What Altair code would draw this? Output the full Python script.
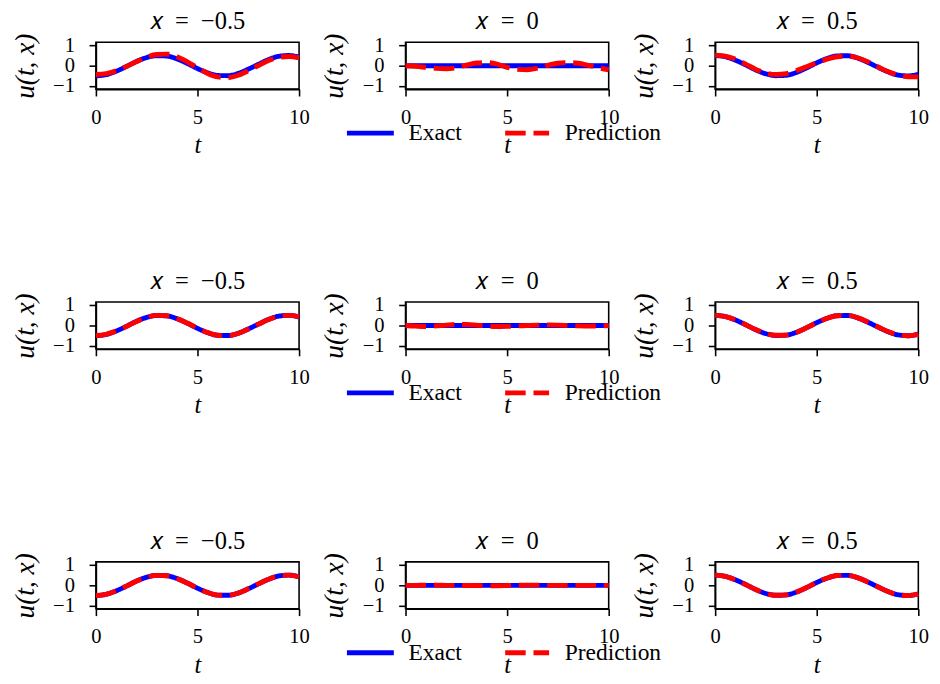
import altair as alt
import pandas as pd

T = [0.0, 0.5, 1.0, 1.5, 2.0, 2.5, 3.0, 3.5, 4.0, 4.5, 5.0, 5.5, 6.0, 6.5, 7.0, 7.5, 8.0, 8.5, 9.0, 9.5, 10.0]

X_VALUES = ["-0.5", "0", "0.5"]
TITLES = ["𝑥\u2002=\u2002−0.5", "𝑥\u2002=\u20020", "𝑥\u2002=\u20020.5"]

EXACT_NEG = [-0.50, -0.44, -0.27, -0.04, 0.21, 0.40, 0.49, 0.47, 0.33, 0.11, -0.14, -0.35, -0.48, -0.49, -0.38, -0.17, 0.07, 0.30, 0.46, 0.50, 0.42]
EXACT_ZERO = [0.00, 0.00, 0.00, 0.00, 0.00, 0.00, 0.00, 0.00, 0.00, 0.00, 0.00, 0.00, 0.00, 0.00, 0.00, 0.00, 0.00, 0.00, 0.00, 0.00, 0.00]
EXACT_POS = [0.50, 0.44, 0.27, 0.04, -0.21, -0.40, -0.49, -0.47, -0.33, -0.11, 0.14, 0.35, 0.48, 0.49, 0.38, 0.17, -0.07, -0.30, -0.46, -0.50, -0.42]

PRED_R1_NEG = [-0.43, -0.39, -0.25, -0.04, 0.20, 0.42, 0.55, 0.57, 0.44, 0.19, -0.10, -0.38, -0.55, -0.58, -0.47, -0.25, 0.01, 0.25, 0.41, 0.45, 0.38]
PRED_R1_ZERO = [0.00, -0.03, -0.08, -0.13, -0.15, -0.10, 0.03, 0.13, 0.15, 0.08, -0.08, -0.18, -0.20, -0.12, 0.02, 0.12, 0.15, 0.12, 0.02, -0.10, -0.20]
PRED_R1_POS = [0.52, 0.47, 0.32, 0.08, -0.18, -0.36, -0.43, -0.39, -0.24, -0.05, 0.15, 0.32, 0.44, 0.47, 0.39, 0.20, -0.05, -0.29, -0.46, -0.54, -0.55]

PRED_R2_NEG = [-0.49, -0.43, -0.27, -0.05, 0.20, 0.40, 0.50, 0.48, 0.34, 0.12, -0.13, -0.35, -0.48, -0.50, -0.39, -0.18, 0.06, 0.29, 0.45, 0.50, 0.43]
PRED_R2_ZERO = [0.00, -0.03, -0.05, -0.02, 0.02, 0.05, 0.05, 0.02, -0.02, -0.05, -0.04, -0.02, 0.00, 0.02, 0.03, 0.02, 0.00, -0.02, -0.03, -0.02, 0.00]
PRED_R2_POS = [0.51, 0.44, 0.28, 0.04, -0.20, -0.39, -0.48, -0.47, -0.34, -0.11, 0.14, 0.35, 0.48, 0.50, 0.39, 0.18, -0.06, -0.29, -0.45, -0.50, -0.43]

PRED_R3_NEG = [-0.50, -0.44, -0.27, -0.04, 0.21, 0.40, 0.49, 0.47, 0.33, 0.11, -0.14, -0.35, -0.48, -0.49, -0.38, -0.17, 0.07, 0.30, 0.46, 0.50, 0.42]
PRED_R3_ZERO = [0.00, 0.00, 0.01, 0.01, 0.00, 0.00, -0.01, -0.01, -0.02, -0.02, -0.01, 0.00, 0.01, 0.01, 0.00, 0.00, 0.00, 0.00, 0.00, 0.00, 0.00]
PRED_R3_POS = [0.50, 0.44, 0.27, 0.04, -0.21, -0.40, -0.49, -0.47, -0.33, -0.11, 0.14, 0.35, 0.48, 0.49, 0.38, 0.17, -0.07, -0.30, -0.46, -0.50, -0.42]

EXACT = [EXACT_NEG, EXACT_ZERO, EXACT_POS]
PRED = [
    [PRED_R1_NEG, PRED_R1_ZERO, PRED_R1_POS],
    [PRED_R2_NEG, PRED_R2_ZERO, PRED_R2_POS],
    [PRED_R3_NEG, PRED_R3_ZERO, PRED_R3_POS],
]
LEGEND_LABELS = ["Exact", "Prediction"]

FONT = "Liberation Serif"
W, H = 208, 48


def panel(row, col):
    df = pd.DataFrame({"t": T, "Exact": EXACT[col], "Prediction": PRED[row][col]})
    lines = alt.Chart(df).transform_fold(
        LEGEND_LABELS, as_=["series", "u"]
    ).mark_line(strokeWidth=5, interpolate="monotone").encode(
        x=alt.X("t:Q", scale=alt.Scale(domain=[0, 10], nice=False),
                axis=alt.Axis(values=[0, 5, 10], format="d", title="t",
                              labelPadding=11, titlePadding=6, labelOverlap=False)),
        y=alt.Y("u:Q", scale=alt.Scale(domain=[-1.15, 1.15], nice=False, zero=False),
                axis=alt.Axis(values=[-1, 0, 1], format="d", title="u(t, x)",
                              labelPadding=15, titlePadding=14, labelOverlap=False)),
        color=alt.Color("series:N", scale=alt.Scale(domain=LEGEND_LABELS,
                                                    range=["#0000ff", "#ff0000"]), legend=None),
        strokeDash=alt.StrokeDash("series:N", scale=alt.Scale(domain=LEGEND_LABELS,
                                                              range=[[1, 0], [21, 8]]), legend=None),
    )
    layers = [lines]
    if col == 1:
        one = pd.DataFrame({"k": [0]})
        layers += [
            alt.Chart(one).mark_rule(color="#0000ff", strokeWidth=5).encode(
                x=alt.value(-60), x2=alt.value(-12), y=alt.value(93)),
            alt.Chart(one).mark_rule(color="#ff0000", strokeWidth=5, strokeDash=[21, 8]).encode(
                x=alt.value(102), x2=alt.value(147), y=alt.value(93)),
            alt.Chart(one).mark_text(align="left", baseline="middle", font=FONT, fontSize=24,
                                     color="black").encode(
                x=alt.value(3), y=alt.value(93), text=alt.value(LEGEND_LABELS[0])),
            alt.Chart(one).mark_text(align="left", baseline="middle", font=FONT, fontSize=24,
                                     color="black").encode(
                x=alt.value(163), y=alt.value(93), text=alt.value(LEGEND_LABELS[1])),
        ]
    return alt.layer(*layers).properties(
        width=W, height=H,
        title=alt.TitleParams(TITLES[col], font=FONT, fontSize=25, fontWeight="normal",
                              color="black", offset=-1),
    )


rows = [alt.hconcat(*[panel(r, c) for c in range(3)], spacing=109, bounds="flush") for r in range(3)]
chart = alt.vconcat(*rows, spacing=266, bounds="flush").properties(
    padding={"left": 2, "top": -8, "right": 2, "bottom": 0}
).configure_view(
    stroke="black", strokeWidth=1.6
).configure_axis(
    grid=False, domainColor="black", domainWidth=1.6, tickColor="black", tickWidth=1.6,
    tickSize=7, labelFont=FONT, labelFontSize=21, labelColor="black", labelOverlap=False,
    titleFont=FONT, titleFontSize=25, titleFontStyle="italic", titleFontWeight="normal",
    titleColor="black",
).configure_axisX(labelFlush=False).configure_axisY(titleFontSize=28)

chart.save("out.html", embed_options={"renderer": "svg", "actions": False})
